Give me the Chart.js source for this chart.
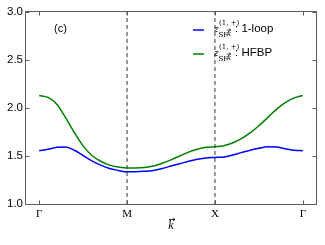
<!DOCTYPE html>
<html>
<head>
<meta charset="utf-8">
<script src="https://cdn.jsdelivr.net/npm/chart.js@4"></script>
<style>
  html, body { margin: 0; padding: 0; background: #fff; }
  #wrap { width: 325px; height: 245px; }
</style>
</head>
<body>
<div id="wrap"><canvas id="chart" width="325" height="245"></canvas></div>
<script>
// path coordinate along Γ-M-X-Γ
const kPath = [0, 0.1, 0.2, 0.3, 0.4, 0.5, 0.6, 0.7, 0.8, 0.9,
               1.0, 1.1, 1.2, 1.3, 1.4, 1.5, 1.6, 1.7, 1.8, 1.9,
               2.0, 2.1, 2.2, 2.3, 2.4, 2.5, 2.6, 2.7, 2.8, 2.9, 3.0];
const oneLoop = [1.555, 1.57, 1.59, 1.595, 1.56, 1.505, 1.45, 1.405, 1.37, 1.35,
                 1.335, 1.335, 1.34, 1.35, 1.37, 1.395, 1.42, 1.445, 1.465, 1.48,
                 1.485, 1.49, 1.51, 1.535, 1.56, 1.58, 1.597, 1.595, 1.575, 1.56, 1.555];
const hfbp = [2.13, 2.11, 2.04, 1.90, 1.745, 1.605, 1.505, 1.445, 1.405, 1.385,
              1.375, 1.375, 1.38, 1.395, 1.425, 1.46, 1.50, 1.54, 1.57, 1.59,
              1.597, 1.607, 1.635, 1.68, 1.74, 1.815, 1.90, 1.985, 2.055, 2.105, 2.13];
const symPos = [0, 1, 2, 3];
const symLabels = ['Γ', 'M', 'X', 'Γ'];
const dashedAt = [1, 2];
const yTicks = [1.0, 1.5, 2.0, 2.5, 3.0];
const legendLabels = ['1-loop', 'HFBP'];
const colors = ['#0000ff', '#007f00'];
const frameColor = '#5c5c5c';

const pts = ys => kPath.map((k, i) => ({ x: k, y: ys[i] }));

const datasets = [
  { label: legendLabels[0], data: pts(oneLoop), borderColor: colors[0], borderWidth: 1.5, pointRadius: 0, cubicInterpolationMode: 'monotone' },
  { label: legendLabels[1], data: pts(hfbp), borderColor: colors[1], borderWidth: 1.5, pointRadius: 0, cubicInterpolationMode: 'monotone' }
];
dashedAt.forEach(x => datasets.push({
  label: 'sym', data: [{ x: x, y: 1 }, { x: x, y: 3 }],
  borderColor: '#333', borderWidth: 1, borderDash: [4, 3], pointRadius: 0
}));

// draw a vector arrow over a letter
function arrowOver(ctx, x0, x1, y) {
  ctx.beginPath();
  ctx.moveTo(x0, y); ctx.lineTo(x1, y);
  ctx.moveTo(x1 - 2, y - 1.5); ctx.lineTo(x1, y); ctx.lineTo(x1 - 2, y + 1.5);
  ctx.stroke();
}

// frame, inward ticks, panel tag, axis title and legend
const decor = {
  id: 'decor',
  afterDraw(chart) {
    const { ctx, scales } = chart;
    const L = 25.5, T = 11.5, R = 316.5, B = 204.5;
    ctx.save();
    ctx.setLineDash([]);
    ctx.strokeStyle = frameColor;
    ctx.lineWidth = 1;
    ctx.beginPath();
    ctx.moveTo(L, T); ctx.lineTo(R, T); ctx.lineTo(R, B); ctx.lineTo(L, B); ctx.closePath();
    yTicks.forEach(v => {
      const y = Math.round(scales.y.getPixelForValue(v)) + 0.5;
      ctx.moveTo(L, y); ctx.lineTo(L + 4, y);
      ctx.moveTo(R, y); ctx.lineTo(R - 4, y);
    });
    symPos.forEach(v => {
      const x = Math.round(scales.x.getPixelForValue(v)) + 0.5;
      ctx.moveTo(x, B); ctx.lineTo(x, B - 4);
      ctx.moveTo(x, T); ctx.lineTo(x, T + 4);
    });
    ctx.stroke();

    ctx.fillStyle = '#000';
    ctx.font = '11px "Liberation Sans", Arial, sans-serif';
    ctx.textBaseline = 'middle';
    ctx.fillText('(c)', 54, 29);

    // axis title k with arrow
    const cx = (L + R) / 2;
    ctx.font = 'italic 12px "Liberation Serif", serif';
    ctx.textAlign = 'center';
    ctx.fillText('k', cx, 226);
    ctx.strokeStyle = '#000';
    ctx.lineWidth = 0.8;
    arrowOver(ctx, cx - 2, cx + 4, 219.5);
    ctx.textAlign = 'left';

    legendLabels.forEach((lab, i) => {
      const y = 30 + i * 24;
      ctx.strokeStyle = colors[i];
      ctx.lineWidth = 1.5;
      ctx.beginPath();
      ctx.moveTo(193, y); ctx.lineTo(204, y);
      ctx.stroke();
      ctx.fillStyle = '#000';
      ctx.font = 'italic 9px "DejaVu Serif", serif';
      ctx.fillText('z', 214, y);
      ctx.font = '7px "DejaVu Serif", serif';
      ctx.fillText('(1, +)', 219, y - 7);
      ctx.fillText('SF', 218.5, y + 5);
      ctx.font = 'italic 7px "DejaVu Serif", serif';
      ctx.fillText('k', 227, y + 4.5);
      ctx.strokeStyle = '#000';
      ctx.lineWidth = 0.6;
      arrowOver(ctx, 227, 231, y);
      ctx.font = '11.5px "Liberation Sans", Arial, sans-serif';
      ctx.fillText(': ' + lab, 235, y - 1);
    });
    ctx.restore();
  }
};

new Chart(document.getElementById('chart'), {
  type: 'line',
  data: { datasets: datasets },
  options: {
    responsive: false,
    animation: false,
    layout: { padding: { top: 12, right: 9, left: 0, bottom: 0 } },
    plugins: { legend: { display: false }, tooltip: { enabled: false } },
    scales: {
      x: {
        type: 'linear', min: -0.15, max: 3.15,
        grid: { display: false, drawTicks: false }, border: { display: false },
        afterBuildTicks: s => { s.ticks = symPos.map(v => ({ value: v })); },
        afterFit: s => { s.height = 41; },
        ticks: {
          padding: 4, color: '#000', maxRotation: 0, autoSkip: false,
          font: { family: '"Liberation Serif", "Times New Roman", serif', size: 11 },
          callback: v => symLabels[symPos.indexOf(v)]
        }
      },
      y: {
        min: 1, max: 3,
        grid: { display: false, drawTicks: false }, border: { display: false },
        afterBuildTicks: s => { s.ticks = yTicks.map(v => ({ value: v })); },
        afterFit: s => { s.width = 26; },
        ticks: {
          padding: 3, color: '#000',
          font: { family: '"Liberation Sans", Arial, sans-serif', size: 11.5 },
          callback: v => v.toFixed(1)
        }
      }
    }
  },
  plugins: [decor]
});
</script>
</body>
</html>
